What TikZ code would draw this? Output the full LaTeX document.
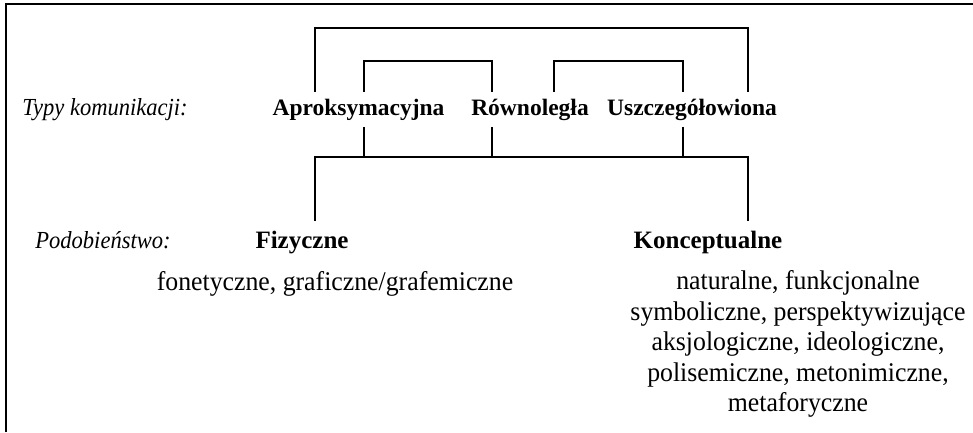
\documentclass[tikz,border=0pt]{standalone}
\usepackage{fontspec}
\setmainfont{Liberation Serif}
\newfontfamily\listfont[FakeStretch=0.955]{Liberation Serif}
\newfontfamily\sidefont[FakeStretch=0.92]{Liberation Serif Italic}

\begin{document}
\begin{tikzpicture}[x=1pt,y=-1pt,line width=1.8pt,
    type node/.style={anchor=base,font=\fontsize{23.5}{28}\selectfont\bfseries,inner xsep=0pt,inner ysep=6pt,text height=16pt,text depth=5pt},
    class node/.style={anchor=base,font=\fontsize{25}{30}\selectfont\bfseries,inner xsep=0pt,inner ysep=9pt,text height=17pt,text depth=5pt},
    side node/.style={anchor=base,font=\sidefont\fontsize{24.5}{29}\selectfont,inner sep=0pt},
    list node/.style={font=\listfont\fontsize{27}{30.5}\selectfont,align=center,inner sep=0pt}]
    \useasboundingbox (0,0) rectangle (973,432);
    \draw[line width=2.2pt] (6,432) -- (6,4) -- (973,4);

    \node[side node] (typy) at (105,115) {Typy komunikacji:};
    \node[type node] (apro) at (358.5,115) {Aproksymacyjna};
    \node[type node] (rown) at (530,115) {Równoległa};
    \node[type node] (uszcz) at (692,115) {Uszczegółowiona};

    \node[side node] (podob) at (103,248) {Podobieństwo:};
    \node[class node] (fiz) at (302,248) {Fizyczne};
    \node[class node] (konc) at (708,248) {Konceptualne};

    \node[list node,anchor=base] (fonet) at (335,290) {fonetyczne, graficzne/grafemiczne};
    \node[list node] (konclist) at (798,344) {naturalne, funkcjonalne\\symboliczne, perspektywizujące\\aksjologiczne, ideologiczne,\\polisemiczne, metonimiczne,\\metaforyczne};

    \coordinate (outerL) at (315,28);
    \coordinate (outerR) at (748,28);
    \coordinate (innerAL) at (364,61);
    \coordinate (innerAR) at (492,61);
    \coordinate (innerBL) at (554,61);
    \coordinate (innerBR) at (683,61);
    \coordinate (joinL) at (315,157);
    \coordinate (joinR) at (748,157);

    % brackets above the types
    \draw (apro.north -| outerL) |- (outerR) -- (uszcz.north -| outerR);
    \draw (apro.north -| innerAL) |- (innerAR) -- (rown.north -| innerAR);
    \draw (rown.north -| innerBL) |- (innerBR) -- (uszcz.north -| innerBR);

    % links down to the kinds of similarity
    \draw (apro.south -| innerAL) -- (joinL -| innerAL);
    \draw (rown.south -| innerAR) -- (joinL -| innerAR);
    \draw (uszcz.south -| innerBR) -- (joinL -| innerBR);
    \draw (fiz.north -| joinL) -- (joinL) -- (joinR) -- (konc.north -| joinR);
\end{tikzpicture}
\end{document}
